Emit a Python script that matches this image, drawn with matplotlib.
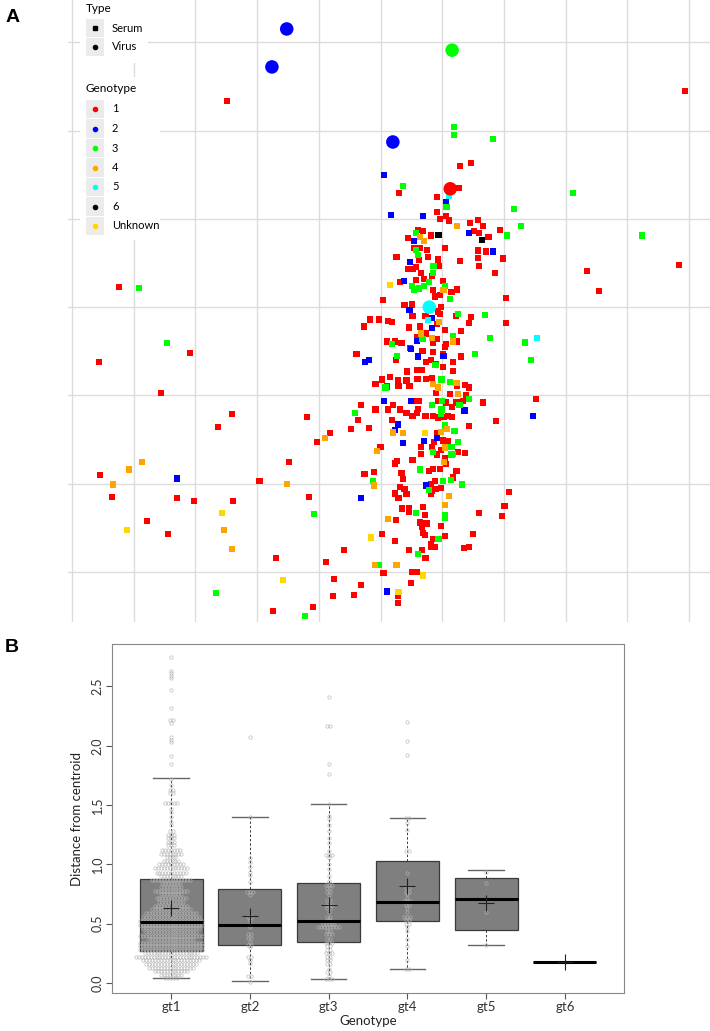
import numpy as np
import matplotlib
matplotlib.use('Agg')
import matplotlib.pyplot as plt
from matplotlib.patches import Rectangle
from matplotlib.lines import Line2D

plt.rcParams['font.family'] = ['Lato', 'DejaVu Sans']

# ---------------- panel A: antigenic map (grid units) ----------------
sera_gt1 = [
    (2.51, 5.33), (9.94, 5.45), (6.29, 4.60), (6.47, 4.63), (5.30, 4.29), (6.27, 4.35), (5.92, 4.25), (5.92, 4.08),
    (6.45, 3.95), (6.58, 3.99), (6.66, 3.92), (6.94, 3.87), (5.96, 4.00), (6.06, 4.03), (6.11, 3.98), (6.51, 3.86),
    (6.59, 3.84), (6.75, 3.79), (6.99, 3.56), (8.35, 3.41), (9.84, 3.48), (8.54, 3.18), (7.03, 3.10), (7.04, 2.82),
    (7.52, 1.96), (0.76, 3.23), (1.91, 2.48), (0.44, 2.38), (1.44, 2.03), (2.59, 1.79), (2.37, 1.64), (3.81, 1.76),
    (3.97, 1.47), (3.52, 1.25), (0.45, 1.10), (3.04, 1.03), (0.65, 0.85), (1.70, 0.84), (1.98, 0.80), (2.61, 0.80),
    (3.84, 0.85), (1.22, 0.58), (1.56, 0.43), (3.31, 0.16), (3.26, -0.44), (3.91, -0.40),
    (5.61, 3.87), (5.69, 3.86), (5.82, 3.81), (5.44, 3.78), (5.55, 3.67), (5.64, 3.67), (5.75, 3.65), (6.04, 3.67),
    (6.58, 3.64), (6.71, 3.63), (6.98, 3.55), (6.58, 3.56), (6.59, 3.47), (6.85, 3.39), (6.29, 3.52),
    (5.26, 3.57), (5.62, 3.53), (5.77, 3.57), (5.93, 3.54), (5.94, 3.47), (5.45, 3.43), (5.52, 3.43), (5.58, 3.45),
    (5.65, 3.39), (5.83, 3.35), (5.57, 3.31), (5.70, 3.32), (5.31, 3.28), (6.01, 3.30), (6.15, 3.17), (6.24, 3.20),
    (5.85, 3.19), (5.88, 3.12), (5.96, 3.14), (5.04, 3.08), (5.39, 3.02), (5.51, 3.03), (5.98, 3.00), (5.93, 2.95),
    (5.52, 2.90), (5.73, 2.90), (5.97, 2.92), (5.92, 2.81), (6.22, 2.90), (6.47, 2.89), (6.44, 2.82),
    (4.83, 2.86), (4.98, 2.86), (5.12, 2.84), (5.19, 2.83), (4.73, 2.78), (5.46, 2.77), (5.64, 2.78), (6.05, 2.74),
    (6.30, 2.73), (5.60, 2.66), (5.74, 2.70), (5.92, 2.64), (6.24, 2.61), (6.06, 2.58), (5.85, 2.59), (5.10, 2.61),
    (5.23, 2.61), (5.34, 2.59), (5.48, 2.54), (5.68, 2.50), (5.85, 2.49), (6.01, 2.47), (6.05, 2.55), (4.61, 2.47),
    (6.30, 2.44), (5.25, 2.40), (5.74, 2.38), (5.82, 2.40), (5.90, 2.36), (6.01, 2.32), (6.17, 2.38), (6.17, 2.28),
    (5.59, 2.29), (5.67, 2.29), (5.43, 2.27), (5.03, 2.18), (5.15, 2.21), (5.28, 2.17), (5.42, 2.17), (5.47, 2.11),
    (5.11, 2.10), (5.29, 2.11), (4.92, 2.13), (5.60, 2.19), (5.74, 2.19), (5.84, 2.20), (6.24, 2.11), (6.37, 2.12),
    (6.43, 2.09), (5.90, 2.03), (6.12, 2.02), (6.39, 2.00), (6.34, 1.94), (5.55, 1.94), (5.63, 1.94), (5.93, 1.94),
    (6.06, 1.92), (6.23, 1.92), (6.16, 1.87), (6.66, 1.92), (4.68, 1.89), (4.92, 1.84), (5.12, 1.84), (5.20, 1.89),
    (5.32, 1.84), (5.42, 1.80), (5.52, 1.77), (5.61, 1.85), (5.73, 1.77), (5.59, 1.80), (5.85, 1.77), (5.93, 1.75),
    (6.02, 1.76), (6.09, 1.77), (6.16, 1.76), (4.63, 1.72), (5.18, 1.72), (6.87, 1.71), (6.43, 1.65), (4.52, 1.62),
    (4.81, 1.63), (5.91, 1.57), (5.87, 1.47), (6.01, 1.49), (6.09, 1.48), (4.18, 1.57), (5.65, 1.42), (5.65, 1.34),
    (5.83, 1.42), (5.98, 1.38), (5.92, 1.33), (6.25, 1.36), (6.37, 1.35), (5.00, 1.42), (5.52, 1.27), (5.27, 1.26),
    (5.24, 1.23), (6.05, 1.29), (6.06, 1.22), (5.96, 1.17), (5.85, 1.17), (5.79, 1.14), (5.34, 1.12), (6.23, 1.14),
    (6.18, 1.07), (4.90, 1.13), (4.74, 1.11), (5.36, 1.05), (5.88, 1.03), (5.82, 0.99), (5.32, 0.96), (5.39, 0.94),
    (5.84, 0.92), (5.90, 0.94), (5.98, 0.95), (5.82, 0.89), (5.24, 0.89), (5.42, 0.88), (5.29, 0.84), (7.08, 0.91),
    (5.69, 0.74), (5.35, 0.72), (5.46, 0.72), (5.46, 0.68), (7.01, 0.75), (6.97, 0.63), (6.60, 0.67), (5.72, 0.65),
    (5.25, 0.59), (5.64, 0.56), (5.70, 0.55), (5.75, 0.55), (5.67, 0.51), (5.98, 0.52), (5.69, 0.44), (5.72, 0.42),
    (6.05, 0.41), (6.50, 0.43), (5.03, 0.43), (5.24, 0.35), (5.85, 0.37), (5.82, 0.32), (5.88, 0.28), (5.82, 0.28),
    (6.35, 0.27), (6.43, 0.28), (4.41, 0.25), (5.46, 0.25), (5.67, 0.25), (5.73, 0.16), (4.12, 0.11), (5.05, -0.01),
    (5.51, 0.00), (5.59, 0.00), (5.50, -0.12), (4.25, -0.08), (4.69, -0.15), (4.57, -0.26), (4.23, -0.27),
    (5.28, -0.27), (5.28, -0.35),
]
sera_gt2 = [
    (5.06, 4.50), (6.06, 4.19), (5.17, 4.04), (5.69, 4.03), (6.43, 3.84), (5.54, 3.75), (6.82, 3.63), (5.48, 3.51),
    (5.38, 3.30), (5.47, 2.97), (5.83, 2.88), (5.83, 2.76), (5.59, 2.62), (5.50, 2.53), (5.61, 2.44), (6.02, 2.45),
    (4.75, 2.38), (4.81, 2.40), (7.47, 1.77), (1.70, 1.06), (5.49, 1.94), (5.06, 1.94), (6.36, 1.83), (5.28, 1.67),
    (5.24, 1.61), (5.36, 1.46), (5.71, 1.48), (5.92, 1.52), (5.74, 0.98), (4.69, 0.84), (5.10, -0.22),
]
sera_gt3 = [
    (6.19, 5.04), (6.19, 4.95), (6.82, 4.90), (5.36, 4.37), (6.07, 4.13), (7.16, 4.11), (7.28, 3.92), (7.05, 3.81),
    (9.24, 3.81), (8.12, 4.29), (7.34, 2.60), (7.44, 2.40), (1.09, 3.22), (1.54, 2.59), (3.92, 0.66), (2.33, -0.24),
    (3.78, -0.50), (5.57, 3.84), (5.58, 3.65), (5.61, 3.59), (5.86, 3.47), (5.85, 3.39), (5.51, 3.24), (5.54, 3.20),
    (5.63, 3.21), (5.71, 3.24), (5.78, 3.28), (6.05, 3.24), (6.12, 3.09), (6.26, 2.92), (6.69, 2.91), (5.68, 2.64),
    (6.17, 2.67), (5.19, 2.58), (6.78, 2.65), (6.53, 2.47), (5.27, 2.45), (5.89, 2.34), (5.08, 2.09), (5.99, 2.18),
    (6.13, 2.15), (6.43, 1.96), (5.84, 1.89), (6.00, 1.94), (6.28, 1.89), (4.59, 1.80), (5.99, 1.84), (5.98, 1.79),
    (6.05, 1.66), (6.20, 1.60), (6.25, 1.47), (5.85, 1.36), (6.15, 1.42), (6.15, 1.33), (6.18, 1.34), (5.64, 1.16),
    (4.88, 1.03), (6.01, 1.03), (6.14, 1.04), (6.32, 0.99), (5.78, 0.93), (6.05, 0.64), (6.05, 0.61), (5.57, 0.67),
    (5.94, 0.37), (5.61, 0.20), (4.97, 0.08),
]
sera_gt4 = [
    (6.24, 3.92), (5.64, 3.79), (5.71, 3.75), (6.02, 3.19), (5.95, 2.83), (5.66, 2.70), (5.84, 2.65), (6.18, 2.61),
    (5.85, 2.13), (5.93, 2.09), (6.23, 2.14), (1.14, 1.25), (0.92, 1.16), (0.66, 0.99), (3.49, 1.00), (2.46, 0.48),
    (2.59, 0.26), (6.26, 2.02), (5.20, 1.58), (5.36, 1.57), (6.08, 1.62), (5.98, 1.59), (4.10, 1.52), (6.05, 1.41),
    (4.94, 1.37), (6.03, 1.25), (4.90, 0.98), (6.11, 0.86), (6.05, 0.76), (5.12, 0.60), (4.91, 0.08), (5.26, 0.08),
]
sera_gt5 = [(6.11, 4.26), (7.54, 2.65), (5.77, 2.85)]
sera_gt6 = [(5.94, 3.82), (6.64, 3.76)]
sera_unknown = [(5.16, 3.25), (2.43, 0.67), (0.89, 0.48), (3.42, -0.09), (5.72, 1.57), (4.84, 0.39),
                (5.69, -0.04), (5.29, -0.23)]

virus_x = [3.48, 3.24, 5.20, 6.16, 6.13, 5.79]
virus_y = [6.15, 5.72, 4.87, 5.91, 4.34, 3.00]
virus_gt = ['2', '2', '2', '3', '1', '5']

genotypes = ['1', '2', '3', '4', '5', '6', 'Unknown']
gt_colors = ['#ff0000', '#0000ff', '#00ff00', '#ffa500', '#00ffff', '#000000', '#ffd700']
sera = [sera_gt1, sera_gt2, sera_gt3, sera_gt4, sera_gt5, sera_gt6, sera_unknown]

# ---------------- panel B: distance from centroid ----------------
gt_labels = ['gt1', 'gt2', 'gt3', 'gt4', 'gt5', 'gt6']
# beeswarm rows: value, number of points in the row
gt1_rows = [(0.04, 5), (0.07, 8), (0.10, 12), (0.13, 16), (0.16, 18), (0.19, 20), (0.22, 25), (0.25, 19),
            (0.28, 22), (0.31, 22), (0.34, 22), (0.37, 16), (0.40, 22), (0.43, 18), (0.46, 20), (0.49, 22),
            (0.52, 22), (0.56, 20), (0.59, 18), (0.62, 14), (0.65, 12), (0.68, 9), (0.72, 11), (0.75, 8),
            (0.78, 12), (0.81, 8), (0.84, 7), (0.87, 14), (0.90, 8), (0.93, 11), (0.97, 12), (1.00, 9),
            (1.03, 6), (1.06, 4), (1.09, 8), (1.12, 7), (1.16, 3), (1.19, 3), (1.22, 3), (1.25, 3), (1.28, 2),
            (1.33, 1), (1.36, 1), (1.40, 1), (1.44, 1), (1.47, 1), (1.52, 5), (1.60, 2), (1.63, 2), (1.67, 1),
            (1.72, 1), (1.85, 1), (1.91, 1), (2.03, 1), (2.05, 1), (2.07, 1), (2.19, 1), (2.22, 2), (2.32, 1),
            (2.47, 1), (2.57, 1), (2.59, 1), (2.61, 1), (2.63, 1), (2.75, 1)]
gt2_rows = [(0.01, 1), (0.06, 2), (0.17, 1), (0.19, 1), (0.22, 2), (0.30, 1), (0.32, 2), (0.35, 1), (0.38, 2),
            (0.41, 2), (0.47, 1), (0.49, 2), (0.53, 1), (0.56, 2), (0.74, 1), (0.77, 3), (0.85, 1), (0.91, 1),
            (0.94, 1), (0.98, 1), (1.02, 1), (1.05, 1), (1.40, 1), (2.07, 1)]
gt3_rows = [(0.03, 3), (0.06, 1), (0.09, 2), (0.12, 1), (0.16, 2), (0.19, 2), (0.22, 2), (0.25, 3), (0.28, 2),
            (0.31, 2), (0.34, 3), (0.37, 2), (0.41, 3), (0.44, 2), (0.47, 8), (0.50, 5), (0.53, 2), (0.56, 2),
            (0.60, 1), (0.63, 2), (0.66, 3), (0.70, 2), (0.74, 1), (0.77, 2), (0.80, 2), (0.83, 3), (0.86, 1),
            (0.90, 1), (0.96, 1), (1.00, 1), (1.05, 1), (1.08, 3), (1.11, 1), (1.18, 1), (1.22, 1), (1.28, 1),
            (1.33, 1), (1.38, 1), (1.41, 1), (1.51, 1), (1.76, 1), (1.85, 1), (2.17, 2), (2.41, 1)]
gt4_rows = [(0.115, 2), (0.19, 1), (0.31, 1), (0.37, 1), (0.44, 1), (0.47, 1), (0.50, 2), (0.53, 2), (0.56, 3),
            (0.60, 1), (0.63, 1), (0.66, 2), (0.69, 3), (0.72, 1), (0.75, 1), (0.77, 2), (0.80, 2), (0.93, 1),
            (1.11, 2), (1.29, 1), (1.35, 1), (1.39, 2), (1.92, 1), (2.04, 1), (2.20, 1)]
gt5_rows = [(0.32, 1), (0.60, 1), (0.84, 1), (0.94, 1)]
gt6_rows = [(0.175, 1)]
swarm_rows = [gt1_rows, gt2_rows, gt3_rows, gt4_rows, gt5_rows, gt6_rows]

# box statistics: lower whisker, Q1, median, Q3, upper whisker
whis_lo = [0.04, 0.02, 0.03, 0.115, 0.32, 0.175]
q1 = [0.27, 0.32, 0.345, 0.525, 0.45, 0.175]
med = [0.515, 0.49, 0.52, 0.68, 0.705, 0.175]
q3 = [0.88, 0.79, 0.845, 1.03, 0.885, 0.175]
whis_hi = [1.73, 1.40, 1.51, 1.39, 0.95, 0.175]
means = [0.63, 0.565, 0.66, 0.82, 0.675, 0.18]

W, H = 710, 1031
fig = plt.figure(figsize=(W / 100, H / 100), dpi=100)


def fbox(x0, y0, x1, y1):
    # pixel box (top-left origin) -> figure fraction rect
    return [x0 / W, 1 - y1 / H, (x1 - x0) / W, (y1 - y0) / H]


# ---- panel A
axA = fig.add_axes(fbox(68, 0, 710, 622))
for pts, col in zip(sera, gt_colors):
    xs, ys = zip(*pts)
    axA.scatter(xs, ys, marker='s', s=20, color=col, edgecolors='none', zorder=3)
vcols = [gt_colors[genotypes.index(g)] for g in virus_gt]
axA.scatter(virus_x, virus_y, marker='o', s=95, color=vcols, edgecolors='none', zorder=4)
axA.set_xlim(-0.065, 10.34)
axA.set_ylim(-0.566, 6.478)
axA.set_xticks(range(0, 11))
axA.set_yticks(range(0, 7))
axA.grid(color='#dcdcdc', lw=1.0)
axA.set_axisbelow(True)
axA.tick_params(length=0, labelbottom=False, labelleft=False)
for s in axA.spines.values():
    s.set_visible(False)

# legend (drawn by hand to mimic the ggplot style keys)
fig.add_artist(Rectangle((80 / W, 1 - 63 / H), 68 / W, 63 / H, transform=fig.transFigure,
                         facecolor='white', edgecolor='none', zorder=5))
fig.add_artist(Rectangle((80 / W, 1 - 240 / H), 80 / W, 163 / H, transform=fig.transFigure,
                         facecolor='white', edgecolor='none', zorder=5))
fig.text(86 / W, 1 - 8 / H, 'Type', fontsize=8.5, va='center', ha='left', zorder=6)
type_labels = ['Serum', 'Virus']
type_markers = ['s', 'o']
for i, (lab, mk) in enumerate(zip(type_labels, type_markers)):
    yc = 28 + i * 19
    fig.add_artist(Rectangle((86 / W, 1 - (yc + 9) / H), 18 / W, 18 / H, transform=fig.transFigure,
                             facecolor='#ebebeb', edgecolor='none', zorder=6))
    fig.add_artist(Line2D([95 / W], [1 - yc / H], marker=mk, ms=3, color='black', ls='none',
                          transform=fig.transFigure, zorder=7))
    fig.text(112 / W, 1 - yc / H, lab, fontsize=8, va='center', ha='left', zorder=7)
fig.text(86 / W, 1 - 88 / H, 'Genotype', fontsize=8.5, va='center', ha='left', zorder=6)
for i, (lab, col) in enumerate(zip(genotypes, gt_colors)):
    yc = 109 + i * 19.5
    fig.add_artist(Rectangle((86 / W, 1 - (yc + 9) / H), 18 / W, 18 / H, transform=fig.transFigure,
                             facecolor='#ebebeb', edgecolor='none', zorder=6))
    fig.add_artist(Line2D([95 / W], [1 - yc / H], marker='o', ms=3, color=col, ls='none',
                          transform=fig.transFigure, zorder=7))
    fig.text(112 / W, 1 - yc / H, lab, fontsize=8, va='center', ha='left', zorder=7)

# ---- panel B
axB = fig.add_axes(fbox(112, 644, 624, 993))
pos = np.arange(1, len(gt_labels) + 1)
stats = []
for i in range(len(gt_labels)):
    stats.append(dict(whislo=whis_lo[i], q1=q1[i], med=med[i], q3=q3[i], whishi=whis_hi[i], label=gt_labels[i]))
axB.bxp(stats, positions=pos, widths=0.8, patch_artist=True, showfliers=False,
        boxprops=dict(facecolor='#7f7f7f', edgecolor='#3a3a3a', lw=0.9),
        whiskerprops=dict(color='#3a3a3a', ls=(0, (2.5, 2)), lw=0.7),
        capprops=dict(color='#666666', lw=1.0),
        medianprops=dict(color='black', lw=2.2, zorder=4), capwidths=0.45)

dx = 0.037
for p, rows in zip(pos, swarm_rows):
    xs, ys = [], []
    for v, n in rows:
        offs = (np.arange(n) - (n - 1) / 2) * dx
        xs.extend(p + offs)
        ys.extend([v] * n)
    axB.plot(xs, ys, ls='none', marker='o', ms=2.4, mfc='none', mec='#b4b4b4', mew=0.45, zorder=3)

axB.plot(pos, means, ls='none', marker='+', ms=11, mew=0.8, color='#222222', zorder=5)

axB.set_xlim(0.25, 6.75)
axB.set_ylim(-0.084, 2.858)
axB.set_xticks(pos)
axB.set_xticklabels(gt_labels)
axB.set_yticks([0, 0.5, 1.0, 1.5, 2.0, 2.5])
axB.set_yticklabels(['0.0', '0.5', '1.0', '1.5', '2.0', '2.5'])
axB.tick_params(axis='y', labelrotation=90, colors='#555555', labelcolor='#333333', labelsize=9, length=4, pad=2)
for lab in axB.get_yticklabels():
    lab.set_va('center')
axB.tick_params(axis='x', colors='#555555', labelcolor='#333333', labelsize=9.5, length=4, pad=2)
for s in axB.spines.values():
    s.set_color('#888888')
axB.set_xlabel('Genotype', fontsize=9.5, color='#222222', labelpad=1)
axB.set_ylabel('Distance from centroid', fontsize=9.5, color='#222222', labelpad=6)

fig.text(6 / W, 1 - 18 / H, 'A', fontsize=14, fontweight='bold', va='center', ha='left',
         family=['Liberation Sans', 'DejaVu Sans'])
fig.text(5 / W, 1 - 648 / H, 'B', fontsize=14, fontweight='bold', va='center', ha='left',
         family=['Liberation Sans', 'DejaVu Sans'])

fig.savefig('out.png', dpi=100)
